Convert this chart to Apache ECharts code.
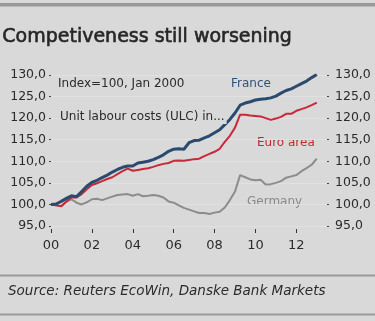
<!DOCTYPE html>
<html>
<head>
<meta charset="utf-8">
<script src="https://cdn.jsdelivr.net/npm/echarts@6/dist/echarts.min.js"></script>
<style>
  html, body { margin: 0; padding: 0; background: #d9d9d9; }
  #chart { width: 375px; height: 321px; }
</style>
</head>
<body>
<div id="chart"></div>
<script>
// Quarterly unit labour cost index, Q1 2000 = 100
const quarters = [];
for (let y = 2000; y <= 2013; y++) {
  for (let q = 1; q <= 4; q++) {
    if (y === 2013 && q > 3) break;
    quarters.push(y + ' Q' + q);
  }
}

const france = [
  100.0, 100.1, 100.7, 101.4, 102.0, 101.8, 103.0, 104.2,
  105.1, 105.6, 106.2, 106.8, 107.5, 108.1, 108.6, 108.9,
  108.9, 109.6, 109.8, 110.0, 110.4, 110.9, 111.5, 112.3,
  112.8, 112.9, 112.8, 114.3, 114.8, 114.9, 115.4, 115.9,
  116.6, 117.3, 118.5, 119.7, 121.2, 123.0, 123.5, 123.8,
  124.2, 124.4, 124.5, 124.7, 125.1, 125.8, 126.4, 126.8,
  127.4, 128.0, 128.6, 129.4, 130.1
];

const euroArea = [
  100.0, 99.8, 99.6, 100.7, 101.6, 101.6, 102.4, 103.5,
  104.5, 104.9, 105.4, 105.9, 106.3, 107.0, 107.7, 108.3,
  107.8, 108.0, 108.2, 108.4, 108.7, 109.1, 109.4, 109.6,
  110.1, 110.2, 110.1, 110.3, 110.5, 110.6, 111.2, 111.7,
  112.2, 112.9, 114.5, 115.9, 117.8, 120.8, 120.8, 120.6,
  120.5, 120.4, 120.0, 119.6, 119.9, 120.3, 121.0, 121.0,
  121.7, 122.1, 122.5, 123.0, 123.6
];

const germany = [
  100.0, 99.8, 99.6, 100.6, 101.2, 100.4, 100.0, 100.5,
  101.2, 101.3, 101.0, 101.4, 101.8, 102.2, 102.3, 102.4,
  102.0, 102.4, 101.9, 102.0, 102.2, 102.0, 101.6, 100.7,
  100.4, 99.8, 99.2, 98.8, 98.4, 98.0, 98.0, 97.8,
  98.1, 98.3, 99.3, 101.0, 103.0, 106.8, 106.3, 105.8,
  105.6, 105.7, 104.6, 104.7, 105.0, 105.4, 106.2, 106.5,
  106.8, 107.7, 108.4, 109.2, 110.6
];

const tickLabels = ['00', '02', '04', '06', '08', '10', '12'];
const quartersPerTick = 8;

const FONT = 'DejaVu Sans';
const TEXT = '#2b2b2b';
const BG = '#d9d9d9';

const chart = echarts.init(document.getElementById('chart'), null, { renderer: 'canvas' });

const yAxisBase = {
  type: 'value',
  min: 95,
  max: 130,
  interval: 5,
  axisLine: { show: false },
  axisTick: { show: true, length: 2, lineStyle: { color: '#444', width: 1 } },
  axisLabel: {
    color: TEXT,
    fontFamily: FONT,
    fontSize: 12.5,
    formatter: v => v.toFixed(1).replace('.', ',')
  }
};

chart.setOption({
  animation: false,
  backgroundColor: BG,
  textStyle: { fontFamily: FONT },
  grid: { left: 51, right: 48, top: 75, bottom: 95, containLabel: false },
  xAxis: {
    type: 'category',
    data: quarters,
    boundaryGap: false,
    offset: 3,
    axisLine: { show: false },
    axisTick: {
      show: true,
      length: 4,
      interval: i => i % quartersPerTick === 0,
      lineStyle: { color: '#333', width: 1 }
    },
    axisLabel: {
      interval: i => i % quartersPerTick === 0,
      margin: 10,
      color: TEXT,
      fontFamily: FONT,
      fontSize: 13,
      formatter: (v, i) => tickLabels[i / quartersPerTick]
    },
    splitLine: { show: false }
  },
  yAxis: [
    Object.assign({}, yAxisBase, {
      position: 'left',
      axisLabel: Object.assign({}, yAxisBase.axisLabel, { margin: 5 }),
      splitLine: { show: true, lineStyle: { color: '#e1e1e1', width: 1 } }
    }),
    Object.assign({}, yAxisBase, {
      position: 'right',
      axisLabel: Object.assign({}, yAxisBase.axisLabel, { margin: 8 }),
      splitLine: { show: false }
    })
  ],
  series: [
    {
      name: 'Germany', type: 'line', data: germany, symbol: 'none',
      lineStyle: { color: '#8c8c8c', width: 2 }, z: 2
    },
    {
      name: 'Euro area', type: 'line', data: euroArea, symbol: 'none',
      lineStyle: { color: '#c8283a', width: 2 }, z: 3
    },
    {
      name: 'France', type: 'line', data: france, symbol: 'none',
      lineStyle: { color: '#2b4b6e', width: 3 }, z: 4
    }
  ],
  graphic: [
    { type: 'rect', shape: { x: 0, y: 3, width: 375, height: 3.5 }, style: { fill: '#999' } },
    { type: 'rect', shape: { x: 0, y: 274.5, width: 375, height: 2 }, style: { fill: '#999' } },
    { type: 'rect', shape: { x: 0, y: 313.5, width: 375, height: 2 }, style: { fill: '#999' } },
    {
      type: 'text', left: 2, top: 27,
      style: {
        text: 'Competiveness still worsening', fill: '#262626',
        stroke: '#262626', lineWidth: 0.6, font: '19px "DejaVu Sans"'
      }
    },
    {
      type: 'text', left: 8, top: 284,
      style: { text: 'Source: Reuters EcoWin, Danske Bank Markets', fill: '#2b2b2b', font: 'italic 13.5px "DejaVu Sans"' }
    },
    {
      type: 'text', left: 56, top: 77, z: 10,
      style: { text: 'Index=100, Jan 2000', fill: TEXT, font: '12px "DejaVu Sans"', backgroundColor: BG, padding: [1, 2] }
    },
    {
      type: 'text', left: 58, top: 110, z: 10,
      style: { text: 'Unit labour costs (ULC) in...', fill: TEXT, font: '12px "DejaVu Sans"', backgroundColor: BG, padding: [1, 2] }
    },
    {
      type: 'text', left: 231, top: 78,
      style: { text: 'France', fill: '#2e5278', font: '12px "DejaVu Sans"' }
    },
    {
      type: 'text', left: 257, top: 137,
      style: { text: 'Euro area', fill: '#c0282f', font: '12px "DejaVu Sans"' }
    },
    {
      type: 'text', left: 247, top: 196,
      style: { text: 'Germany', fill: '#8a8a8a', font: '12px "DejaVu Sans"' }
    }
  ]
});
</script>
</body>
</html>
